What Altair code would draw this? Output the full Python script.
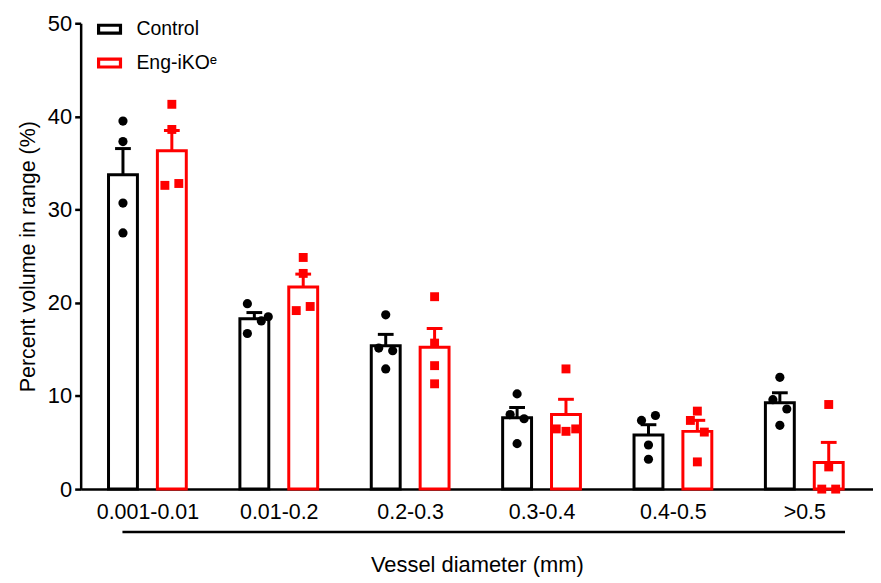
import json
import altair as alt
import pandas as pd

# ---- data ----
categories = ["0.001-0.01", "0.01-0.2", "0.2-0.3", "0.3-0.4", "0.4-0.5", ">0.5"]
groups = ["Control", "Eng-iKO\u1d49"]

control_values = [
    [39.5, 37.3, 30.7, 27.5],
    [19.9, 16.7, 18.05, 18.5],
    [18.7, 15.14, 14.85, 12.9],
    [10.22, 8.0, 7.55, 4.88],
    [7.9, 7.37, 4.73, 3.2],
    [12.0, 9.6, 8.6, 6.84],
]
eng_values = [
    [41.3, 38.6, 32.6, 32.8],
    [24.86, 23.15, 19.16, 19.6],
    [20.65, 15.67, 13.25, 11.3],
    [12.9, 6.46, 6.2, 6.46],
    [8.37, 7.37, 6.12, 2.92],
    [9.08, 2.38, 0.0, 0.0],
]
# horizontal spread index of overlapping points (scatter-dot arrangement)
control_spread = [
    [0, 0, 0, 0],
    [-1, -1, 1, 2],
    [0, -1, 1, 0],
    [0, -1, 1, 0],
    [1, -1, 0, 0],
    [0, -1, 1, 0],
]
eng_spread = [
    [0, 0, -1, 1],
    [0, 0, -1, 1],
    [0, 0, 0, 0],
    [0, -1.4, 0, 1.4],
    [0, -1, 1, 0],
    [0, 0, -1, 1],
]

rows = []
for gname, vals, spr, side in [
    (groups[0], control_values, control_spread, -1),
    (groups[1], eng_values, eng_spread, 1),
]:
    for ci, (vs, ss) in enumerate(zip(vals, spr)):
        for v, s in zip(vs, ss):
            rows.append(dict(ci=ci, cat=categories[ci], group=gname, side=side,
                             value=v, spread=s))
df = pd.DataFrame(rows)

FONT = "Liberation Sans"
colors = ["#000000", "#ff0000"]

xscale = alt.Scale(domain=[-0.508, 5.523], nice=False, zero=False)
yscale = alt.Scale(domain=[0, 50], nice=False, zero=True)
cscale = alt.Scale(domain=groups, range=colors)

label_expr = json.dumps(categories) + "[datum.value]"

xaxis = alt.Axis(
    values=[0, 1, 2, 3, 4, 5], labelExpr=label_expr, ticks=False, grid=False,
    labelFlush=False, labelOverlap=False, labelFontSize=21.5, labelPadding=13,
    labelColor="black", domainColor="black", domainWidth=2.5,
    title="Vessel diameter (mm)", titleFontSize=22, titleFontWeight="normal",
    titlePadding=31, titleColor="black",
)
yaxis = alt.Axis(
    values=[0, 10, 20, 30, 40, 50], grid=False, tickSize=6, tickWidth=2.5,
    tickColor="black", domainColor="black", domainWidth=2.5,
    labelFontSize=22, labelPadding=3, labelColor="black",
    title="Percent volume in range (%)", titleFontSize=21.5,
    titleFontWeight="normal", titlePadding=8, titleColor="black",
)

legend = alt.Legend(
    title=None, orient="none", legendX=16, legendY=-7,
    symbolType="M-1,-0.36H1V0.36H-1Z", symbolSize=484, symbolStrokeWidth=3.2,
    symbolFillColor="white", labelFontSize=19.5, labelOffset=14,
    rowPadding=10, labelColor="black",
)

base = alt.Chart(df)

bars = base.transform_aggregate(
    mean="mean(value)", groupby=["ci", "group", "side"]
).transform_calculate(
    xa="datum.ci + datum.side*0.186 - 0.11",
    xb="datum.ci + datum.side*0.186 + 0.11",
).mark_bar(fill="white", strokeWidth=3).encode(
    x=alt.X("xa:Q", scale=xscale, axis=xaxis),
    x2="xb:Q",
    y=alt.Y("mean:Q", scale=yscale, axis=yaxis),
    y2=alt.datum(0),
    stroke=alt.Stroke("group:N", scale=cscale, legend=legend),
)

err = base.transform_aggregate(
    mean="mean(value)", sem="stderr(value)", groupby=["ci", "group", "side"]
).transform_calculate(
    top="datum.mean + datum.sem",
    xc="datum.ci + datum.side*0.186",
    c0="datum.ci + datum.side*0.186 - 0.06",
    c1="datum.ci + datum.side*0.186 + 0.06",
)

err_v = err.mark_rule(strokeWidth=3).encode(
    x=alt.X("xc:Q", scale=xscale),
    y=alt.Y("mean:Q", scale=yscale),
    y2="top:Q",
    stroke=alt.Stroke("group:N", scale=cscale, legend=None),
)
err_cap = err.mark_rule(strokeWidth=3).encode(
    x=alt.X("c0:Q", scale=xscale),
    x2="c1:Q",
    y=alt.Y("top:Q", scale=yscale),
    stroke=alt.Stroke("group:N", scale=cscale, legend=None),
)

pts = base.transform_calculate(
    xp="datum.ci + datum.side*0.186 + datum.spread*0.053"
)
pts_ctrl = pts.transform_filter(alt.datum.side < 0).mark_point(
    filled=True, opacity=1, size=85, shape="circle", color=colors[0]
).encode(
    x=alt.X("xp:Q", scale=xscale),
    y=alt.Y("value:Q", scale=yscale),
)
pts_eng = pts.transform_filter(alt.datum.side > 0).mark_point(
    filled=True, opacity=1, size=80, shape="square", color=colors[1]
).encode(
    x=alt.X("xp:Q", scale=xscale),
    y=alt.Y("value:Q", scale=yscale),
)

group_line = alt.Chart(pd.DataFrame({"a": [0]})).mark_rule(
    color="black", strokeWidth=2.5
).encode(
    x=alt.datum(-0.19, scale=xscale),
    x2=alt.datum(5.31),
    y=alt.value(511),
)

chart = alt.layer(bars, err_v, err_cap, pts_ctrl, pts_eng, group_line).properties(
    width=796, height=468, autosize="none",
    padding={"left": 73, "top": 14, "right": 0, "bottom": 89},
).configure(font=FONT).configure_view(stroke=None)

chart.save("out.html", embed_options={"renderer": "svg", "actions": False})
